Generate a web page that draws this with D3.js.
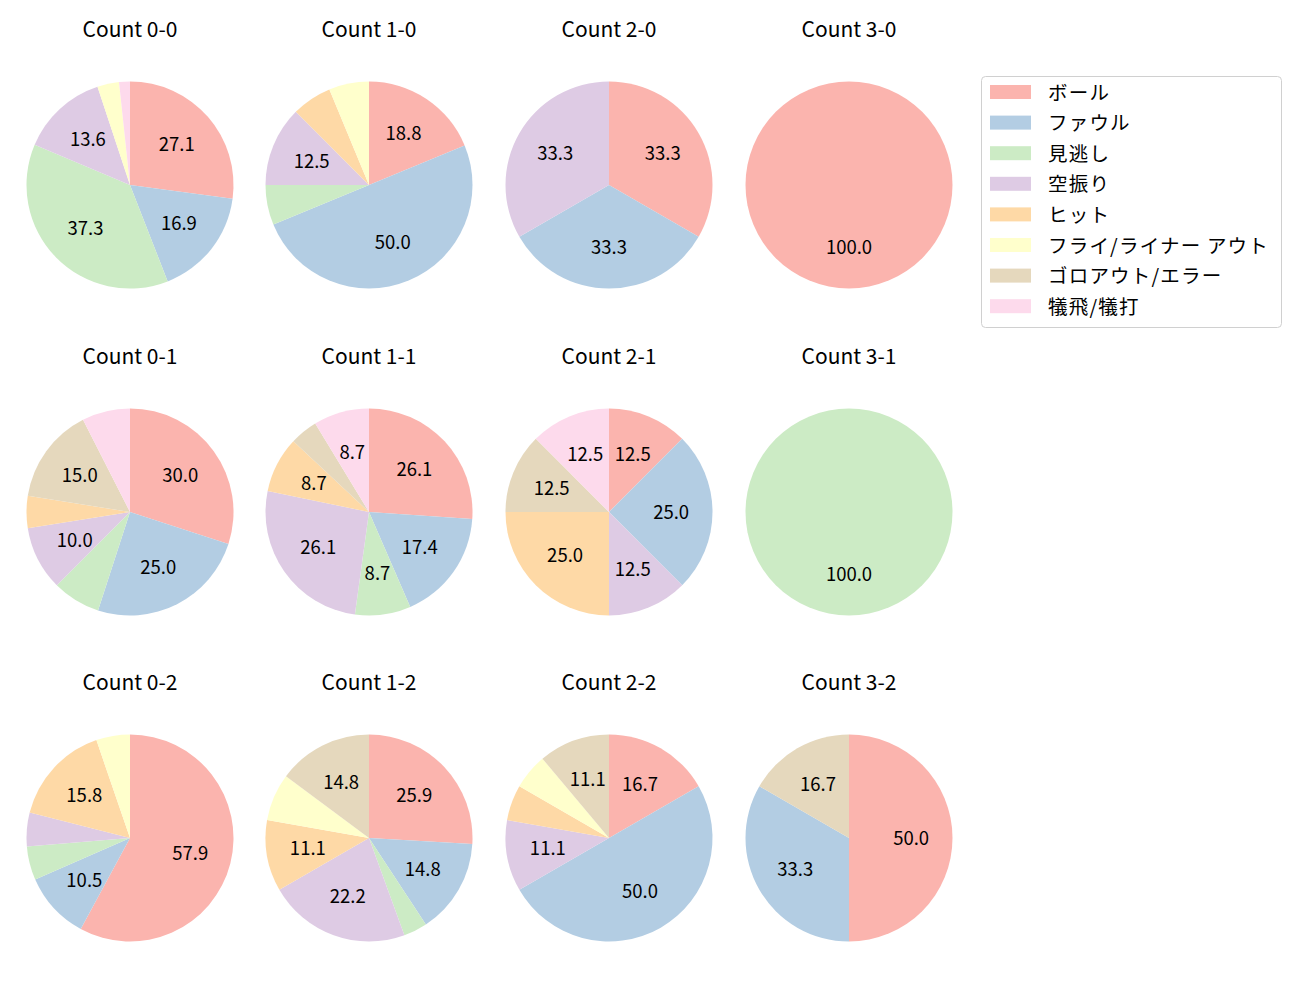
<!DOCTYPE html>
<html><head><meta charset="utf-8">
<script src="https://cdn.jsdelivr.net/npm/d3@7"></script>
<style>body{margin:0;background:#fff;} text{font-family:"Noto Sans CJK JP","Noto Sans",sans-serif;}</style>
</head><body>
<svg id="chart" width="1300" height="1000"></svg>
<script>
const categories = ["ボール","ファウル","見逃し","空振り","ヒット","フライ/ライナー アウト","ゴロアウト/エラー","犠飛/犠打"];
const colors = ["#fbb4ae","#b3cde3","#ccebc5","#decbe4","#fed9a6","#ffffcc","#e5d8bd","#fddaec"];
const titles = ["Count 0-0","Count 1-0","Count 2-0","Count 3-0",
                "Count 0-1","Count 1-1","Count 2-1","Count 3-1",
                "Count 0-2","Count 1-2","Count 2-2","Count 3-2"];
// counts per category, in category order
const count00 = [16,10,22,8,0,2,0,1];
const count10 = [3,8,1,2,1,1,0,0];
const count20 = [1,1,0,1,0,0,0,0];
const count30 = [1,0,0,0,0,0,0,0];
const count01 = [12,10,3,4,2,0,6,3];
const count11 = [6,4,2,6,2,0,1,2];
const count21 = [1,2,0,1,2,0,1,1];
const count31 = [0,0,1,0,0,0,0,0];
const count02 = [11,2,1,1,3,1,0,0];
const count12 = [7,4,1,6,3,2,4,0];
const count22 = [3,9,0,2,1,1,2,0];
const count32 = [3,2,0,0,0,0,1,0];
const allCounts = [count00,count10,count20,count30,count01,count11,count21,count31,count02,count12,count22,count32];

const svg = d3.select("#chart");
const colX = [130,369,609,849];
const rowY = [185,512,838];
const R = 103.5;
const color = d3.scaleOrdinal().domain(categories).range(colors);
const pie = d3.pie().sort(null).value(d=>d.v);
const arc = d3.arc().innerRadius(0).outerRadius(R);
const labelArc = d3.arc().innerRadius(R*0.6).outerRadius(R*0.6);

allCounts.forEach((vals,i)=>{
  const cx = colX[i%4], cy = rowY[Math.floor(i/4)];
  const g = svg.append("g").attr("transform",`translate(${cx},${cy})`);
  const total = d3.sum(vals);
  const data = categories.map((c,k)=>({c, v: vals[k]})).filter(d=>d.v>0);
  const arcs = pie(data);
  g.selectAll("path").data(arcs).enter().append("path")
    .attr("d",arc).attr("fill",d=>color(d.data.c));
  g.selectAll("text.lbl").data(arcs.filter(d=>d.data.v/total*100>=8)).enter().append("text")
    .attr("class","lbl")
    .attr("transform",d=>{
      if (arcs.length===1) return `translate(0,${R*0.6})`;
      const p = labelArc.centroid(d); return `translate(${p[0]},${p[1]})`;})
    .attr("text-anchor","middle").attr("dominant-baseline","central").attr("dy","-1.5")
    .attr("font-size","18.5px").attr("fill","#000")
    .text(d=>(d.data.v/total*100).toFixed(1));
  svg.append("text").attr("x",cx).attr("y",cy-157).attr("text-anchor","middle")
    .attr("dominant-baseline","central").attr("font-size","21px").attr("fill","#000")
    .text(titles[i]);
});

// legend
const lg = svg.append("g").attr("transform","translate(981,76)");
lg.append("rect").attr("x",0.5).attr("y",0.5).attr("width",300).attr("height",251)
  .attr("rx",4).attr("fill","#fff").attr("stroke","#d0d0d0");
categories.forEach((c,k)=>{
  const y = 16 + k*30.6;
  lg.append("rect").attr("x",9).attr("y",y-7).attr("width",41).attr("height",14).attr("fill",color(c));
  lg.append("text").attr("x",67).attr("y",y).attr("dy","-1").attr("dominant-baseline","central")
    .attr("font-size","19.5px").attr("letter-spacing","1.2px").attr("fill","#000").text(c);
});
</script>
</body></html>
